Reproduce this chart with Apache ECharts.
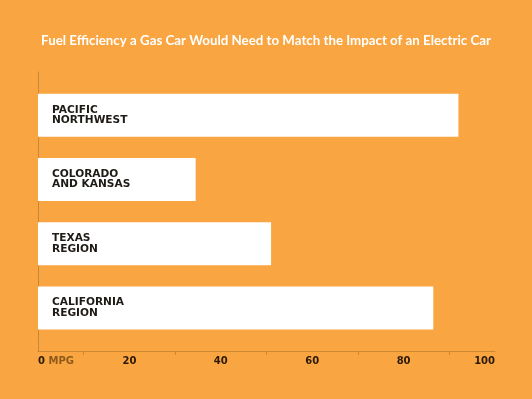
<!DOCTYPE html>
<html>
<head>
<meta charset="utf-8">
<script src="https://cdn.jsdelivr.net/npm/echarts@6/dist/echarts.min.js"></script>
<style>
  html, body { margin: 0; padding: 0; background: #f9a541; }
  #chart { width: 532px; height: 399px; }
</style>
</head>
<body>
<div id="chart"></div>
<script>
        // 数据
        const regions = ['PACIFIC\nNORTHWEST', 'COLORADO\nAND KANSAS', 'TEXAS\nREGION', 'CALIFORNIA\nREGION'];
        const mpgValues = [92, 34.5, 51, 86.5];
        const xTicks = [0, 20, 40, 60, 80, 100];

        const chart = echarts.init(document.getElementById('chart'));
        const axisColor = '#c98834';
        const labelFont = 'DejaVu Sans';

        const option = {
            backgroundColor: '#f9a541',
            animation: false,
            title: {
                text: 'Fuel Efficiency a Gas Car Would Need to Match the Impact of an Electric Car',
                left: 'center',
                top: 29,
                textStyle: {
                    color: '#ffffff',
                    fontFamily: 'Lato',
                    fontWeight: 'bold',
                    fontSize: 13.3
                }
            },
            grid: [
                // 坐标轴用
                { left: 38, right: 37, top: 72, bottom: 48 },
                // 柱子用
                { left: 38, right: 37, top: 83, bottom: 59 }
            ],
            xAxis: [
                {
                    gridIndex: 0,
                    type: 'value',
                    min: xTicks[0],
                    max: xTicks[xTicks.length - 1],
                    interval: xTicks[1] - xTicks[0],
                    splitLine: { show: false },
                    axisLine: { show: true, lineStyle: { color: axisColor, width: 1 } },
                    axisTick: { show: false },
                    minorTick: { show: true, splitNumber: 2, length: 4, lineStyle: { color: axisColor } },
                    axisLabel: {
                        margin: 5,
                        alignMinLabel: 'left',
                        alignMaxLabel: 'right',
                        fontFamily: labelFont,
                        fontWeight: 'bold',
                        fontSize: 10,
                        color: '#2b1a08',
                        formatter: function (v) {
                            return v === 0 ? '{a|0} {b|MPG}' : String(v);
                        },
                        rich: {
                            a: { fontFamily: labelFont, fontWeight: 'bold', fontSize: 10, color: '#2b1a08' },
                            b: { fontFamily: labelFont, fontWeight: 'bold', fontSize: 10, color: '#8d5a1c' }
                        }
                    }
                },
                {
                    gridIndex: 1,
                    type: 'value',
                    min: xTicks[0],
                    max: xTicks[xTicks.length - 1],
                    show: false
                }
            ],
            yAxis: [
                {
                    gridIndex: 0,
                    type: 'value',
                    axisLine: { show: true, lineStyle: { color: axisColor, width: 1 } },
                    axisTick: { show: false },
                    axisLabel: { show: false },
                    splitLine: { show: false }
                },
                {
                    gridIndex: 1,
                    type: 'category',
                    data: regions,
                    inverse: true,
                    show: false
                }
            ],
            series: [
                {
                    type: 'bar',
                    xAxisIndex: 1,
                    yAxisIndex: 1,
                    data: mpgValues,
                    barWidth: 43,
                    itemStyle: { color: '#ffffff' },
                    label: {
                        show: true,
                        position: 'insideLeft',
                        distance: 14,
                        formatter: '{b}',
                        fontFamily: labelFont,
                        fontWeight: 'bold',
                        fontSize: 10.6,
                        lineHeight: 10.5,
                        color: '#1e1a16'
                    }
                }
            ]
        };

        chart.setOption(option);
</script>
</body>
</html>
